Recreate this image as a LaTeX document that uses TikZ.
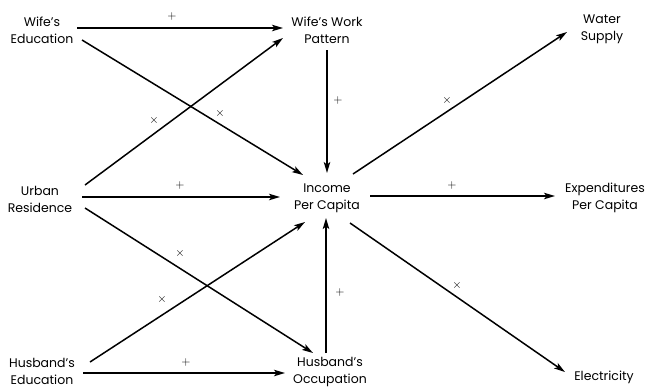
\documentclass[tikz,border=0pt]{standalone}
\usepackage{fontspec}
\setmainfont{Poppins}
\usetikzlibrary{calc,arrows.meta}
\tikzset{
  lbl/.style={align=center,font=\fontsize{12.5}{17}\selectfont,inner sep=0pt},
  arr/.style={line width=1.5pt,-{Stealth[length=11pt,width=6.5pt,inset=2.5pt]}},
  sgn/.style={font=\fontsize{13}{14}\selectfont\rmfamily,inner sep=0pt}
}
\begin{document}
\begin{tikzpicture}[x=1pt,y=-1pt]
\useasboundingbox (0,0) rectangle (646,389);
\node[lbl] (we) at (42,30) {Wife’s\\Education};
\node[lbl] (wwp) at (327,30) {Wife’s Work\\Pattern};
\node[lbl] (ws) at (602,29) {Water\\Supply};
\node[lbl] (ur) at (40,199) {Urban\\Residence};
\node[lbl] (inc) at (327,198) {Income\\Per Capita};
\node[lbl] (exp) at (605,198) {Expenditures\\Per Capita};
\node[lbl] (he) at (42,371.5) {Husband’s\\Education};
\node[lbl] (ho) at (330,371.5) {Husband’s\\Occupation};
\node[lbl] (el) at (604,377) {Electricity};

\draw[arr] ($(we)+(35,-2)$) -- ($(wwp)+(-44,-2)$);
\draw[arr] ($(we)+(40,10)$) -- ($(inc)+(-24,-23)$);
\draw[arr] ($(ur)+(45,-14)$) -- ($(wwp)+(-44,8)$);
\draw[arr] ($(ur)+(42,-2)$) -- ($(inc)+(-47,-1)$);
\draw[arr] ($(ur)+(45,9)$) -- ($(ho)+(-17,-18.5)$);
\draw[arr] ($(he)+(48,-9.5)$) -- ($(inc)+(-22,24)$);
\draw[arr] ($(he)+(41,1.5)$) -- ($(ho)+(-45,1.5)$);
\draw[arr] ($(wwp)+(0,20)$) -- ($(inc)+(0,-25)$);
\draw[arr] ($(ho)+(-4,-18.5)$) -- ($(inc)+(-1,20)$);
\draw[arr] ($(inc)+(26,-24)$) -- ($(ws)+(-35,3)$);
\draw[arr] ($(inc)+(43,-2)$) -- ($(exp)+(-50,-2)$);
\draw[arr] ($(inc)+(23,25)$) -- ($(el)+(-39,-5)$);

\node[sgn] (s1) at (172,16) {$+$};
\node[sgn] (s2) at (220,113) {$\times$};
\node[sgn] (s3) at (154,120) {$\times$};
\node[sgn] (s4) at (180,185) {$+$};
\node[sgn] (s5) at (180,253) {$\times$};
\node[sgn] (s6) at (162,299) {$\times$};
\node[sgn] (s7) at (186,362) {$+$};
\node[sgn] (s8) at (338,100) {$+$};
\node[sgn] (s9) at (340,292) {$+$};
\node[sgn] (s10) at (447,100) {$\times$};
\node[sgn] (s11) at (452,185) {$+$};
\node[sgn] (s12) at (457,285) {$\times$};
\end{tikzpicture}
\end{document}
